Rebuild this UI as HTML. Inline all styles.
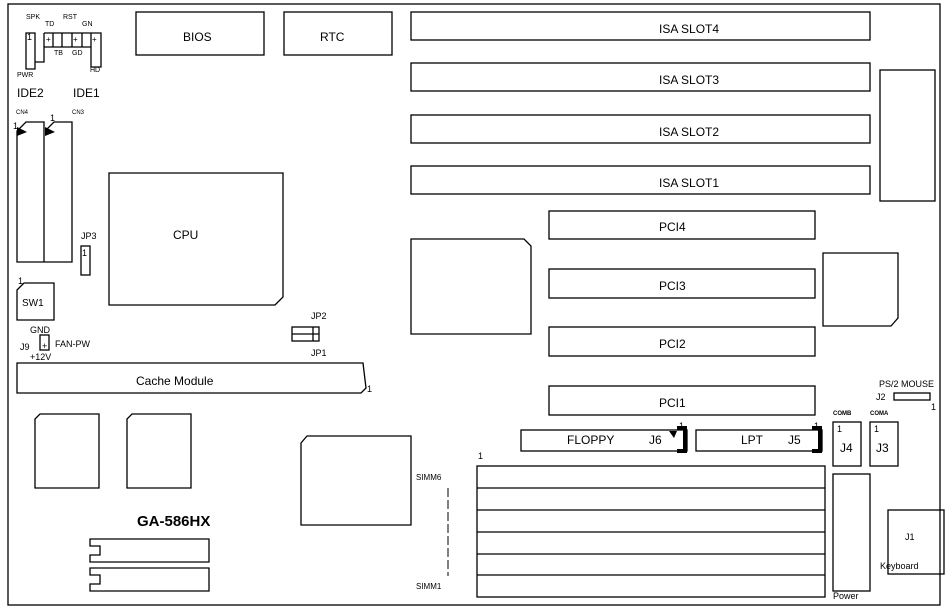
<!DOCTYPE html>
<html><head><meta charset="utf-8"><style>
html,body{margin:0;padding:0;background:#fff;}
svg{display:block;font-family:"Liberation Sans",Arial,sans-serif;}
text{fill:#000;}
</style></head><body>
<svg width="951" height="611" viewBox="0 0 951 611" xmlns="http://www.w3.org/2000/svg">
<g fill="none" stroke="#000" stroke-width="1.3">
<rect x="8" y="4" width="932" height="601"/>
<rect x="136" y="12" width="128" height="43"/>
<rect x="284" y="12" width="108" height="43"/>
<rect x="411" y="12" width="459" height="28"/>
<rect x="411" y="63" width="459" height="28"/>
<rect x="411" y="115" width="459" height="28"/>
<rect x="411" y="166" width="459" height="28"/>
<rect x="880" y="70" width="55" height="131"/>
<!-- header -->
<path d="M26,33 V69 H35 V33 Z M35,33 V62 H44 V33 M44,33 H101 V67 H91 V47 H44 M53,33V47 M62,33V47 M72,33V47 M82,33V47 M91,33V47"/>
<!-- IDE -->
<path d="M17,131 L26,122 H44 V262 H17 Z M44,262 H72 V122 H54 L46,130"/>
<rect x="81" y="246" width="9" height="29"/>
<path d="M109,173 H283 V297 L275,305 H109 Z"/>
<path d="M17,290 L24,283 H54 V320 H17 Z"/>
<rect x="40" y="335" width="9" height="15"/>
<rect x="292" y="327" width="27" height="14"/>
<path d="M292,334H319 M313,327V341"/>
<path d="M17,363 H363 L366,388 L361,393 H17 Z"/>
<path d="M35,419 L40,414 H99 V488 H35 Z"/>
<path d="M127,419 L132,414 H191 V488 H127 Z"/>
<path d="M301,443 L307,436 H411 V525 H301 Z"/>
<path d="M90,539 H209 V562 H90 V555 H100 V546 H90 Z"/>
<path d="M90,568 H209 V591 H90 V584 H100 V575 H90 Z"/>
<path d="M411,239 H524 L531,246 V334 H411 Z"/>
<rect x="549" y="211" width="266" height="28"/>
<rect x="549" y="269" width="266" height="29"/>
<rect x="549" y="327" width="266" height="29"/>
<rect x="549" y="386" width="266" height="29"/>
<path d="M823,253 H898 V318 L891,326 H823 Z"/>
<rect x="521" y="430" width="166" height="21"/>
<rect x="696" y="430" width="126" height="21"/>
<rect x="477" y="466" width="348" height="131"/>
<path d="M477,488H825 M477,510H825 M477,532H825 M477,554H825 M477,575H825"/>
<path d="M448,488V576" stroke-dasharray="9,3" stroke-width="1"/>
<rect x="833" y="422" width="28" height="44"/>
<rect x="870" y="422" width="28" height="44"/>
<rect x="833" y="474" width="37" height="117"/>
<rect x="888" y="510" width="56" height="64"/>
<rect x="894" y="393" width="36" height="7"/>
</g>
<g fill="#000">
<path d="M17,127 L27,132 L17,136 Z"/>
<path d="M45,127 L55,132 L45,136 Z"/>
<path d="M669,431 L677,431 L674,438 Z"/>
<path d="M677,426 H687 V453 H677 V449 H683 V430 H677 Z"/>
<path d="M812,426 H822 V453 H812 V449 H818 V430 H812 Z"/>
</g>
<g font-size="7">
<text x="26" y="19">SPK</text><text x="45" y="26">TD</text><text x="63" y="19">RST</text><text x="82" y="26">GN</text>
<text x="54" y="55">TB</text><text x="72" y="55">GD</text><text x="90" y="72">HD</text><text x="17" y="77">PWR</text>
<text x="46" y="42" font-size="8">+</text><text x="73" y="42" font-size="8">+</text><text x="92" y="42" font-size="8">+</text>
<text x="16" y="114" font-size="6">CN4</text><text x="72" y="114" font-size="6">CN3</text>
<text x="833" y="415" font-size="6" font-weight="bold">COMB</text><text x="870" y="415" font-size="6" font-weight="bold">COMA</text>
</g>
<g font-size="9">
<text x="27" y="40">1</text>
<text x="13" y="129">1</text><text x="50" y="121">1</text>
<text x="82" y="256">1</text><text x="18" y="284">1</text>
<text x="367" y="392">1</text><text x="478" y="459">1</text>
<text x="679" y="429">1</text><text x="814" y="429">1</text>
<text x="837" y="432">1</text><text x="874" y="432">1</text>
<text x="931" y="410">1</text>
<text x="30" y="333">GND</text><text x="20" y="350">J9</text><text x="42" y="349">+</text><text x="55" y="347">FAN-PW</text><text x="30" y="360">+12V</text>
<text x="311" y="319">JP2</text><text x="311" y="356">JP1</text>
<text x="416" y="480" font-size="8">SIMM6</text><text x="416" y="589" font-size="8">SIMM1</text>
<text x="879" y="387">PS/2 MOUSE</text><text x="876" y="400">J2</text>
<text x="880" y="569">Keyboard</text><text x="833" y="599">Power</text><text x="905" y="540">J1</text>
<text x="81" y="239">JP3</text>
</g>
<g font-size="12">
<text x="17" y="97">IDE2</text><text x="73" y="97">IDE1</text>
<text x="183" y="41">BIOS</text><text x="320" y="41">RTC</text>
<text x="659" y="33">ISA SLOT4</text><text x="659" y="84">ISA SLOT3</text><text x="659" y="136">ISA SLOT2</text><text x="659" y="187">ISA SLOT1</text>
<text x="173" y="239">CPU</text><text x="22" y="306" font-size="10">SW1</text>
<text x="136" y="385">Cache Module</text>
<text x="659" y="231">PCI4</text><text x="659" y="290">PCI3</text><text x="659" y="348">PCI2</text><text x="659" y="407">PCI1</text>
<text x="567" y="444">FLOPPY</text><text x="649" y="444">J6</text>
<text x="741" y="444">LPT</text><text x="788" y="444">J5</text>
<text x="840" y="452">J4</text><text x="876" y="452">J3</text>
<text x="137" y="526" font-size="15" font-weight="bold">GA-586HX</text>
</g>
</svg>
</body></html>
